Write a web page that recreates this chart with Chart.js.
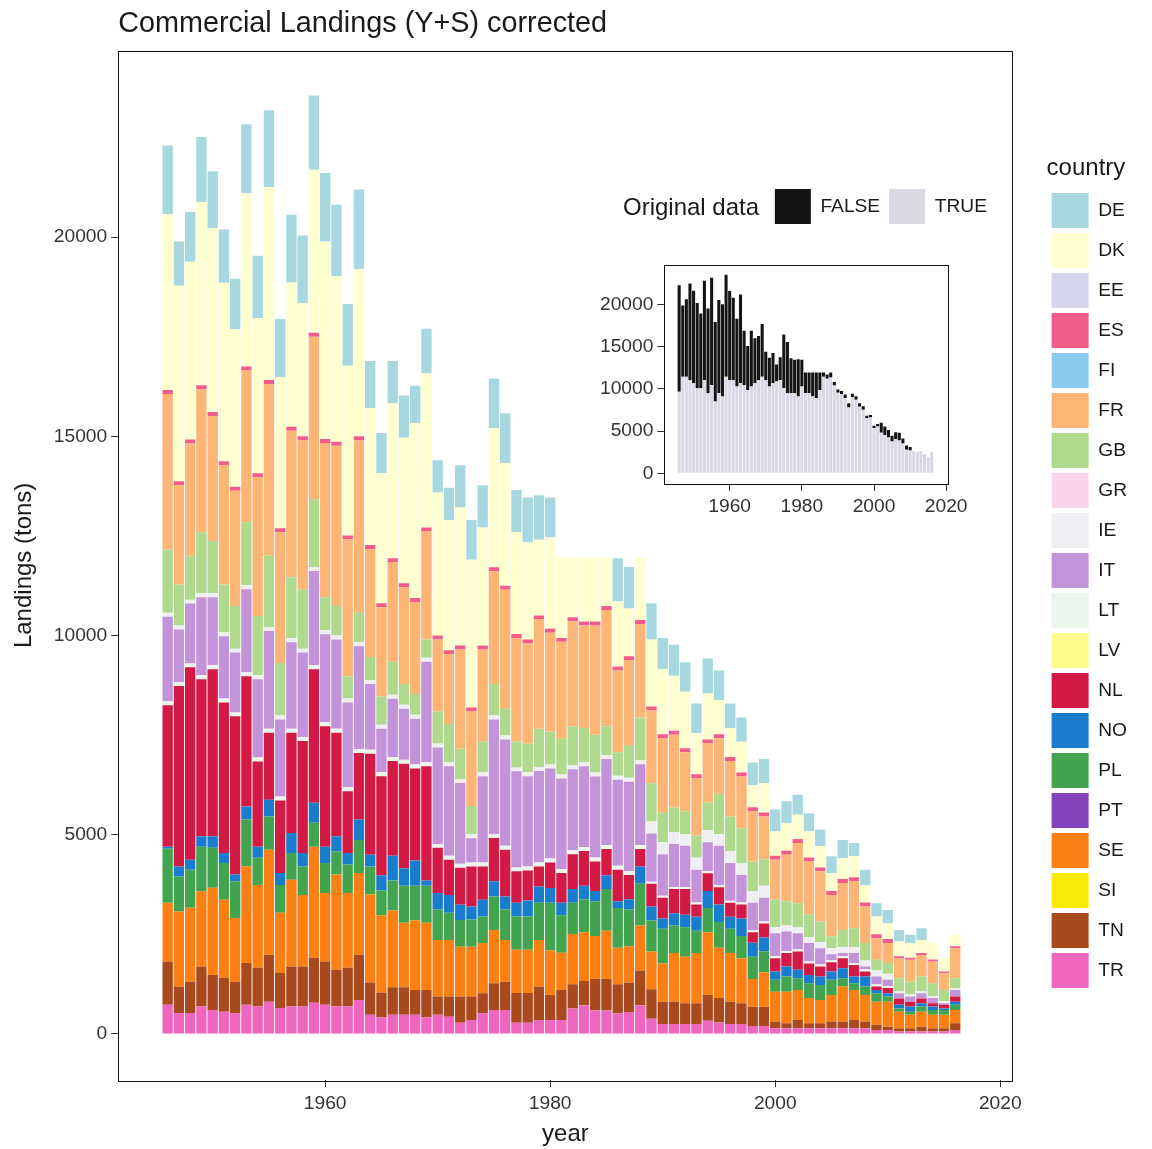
<!DOCTYPE html>
<html>
<head>
<meta charset="utf-8">
<title>Commercial Landings (Y+S) corrected</title>
<script src="https://cdn.jsdelivr.net/npm/chart.js@4.4.1/dist/chart.umd.min.js"></script>
<style>
  html, body { margin: 0; padding: 0; background: #fff; overflow: hidden; }
  #wrap { position: relative; width: 1152px; height: 1149px; }
  #main { position: absolute; left: 0; top: 0; }
  #inset { position: absolute; left: 585px; top: 180px; }
  #insetTitle {
    position: absolute; left: 623px; top: 193px; line-height: 28px;
    font: 24px "Liberation Sans", Arial, Helvetica, sans-serif; color: #1a1a1a;
  }
</style>
</head>
<body>
<div id="wrap">
  <canvas id="main" width="1152" height="1149"></canvas>
  <canvas id="inset" width="415" height="344"></canvas>
  <div id="insetTitle">Original data</div>
</div>
<script>
// --- data (tons per year, 1946-2016) ---
const years = [
  1946, 1947, 1948, 1949, 1950, 1951, 1952, 1953, 1954, 1955,
  1956, 1957, 1958, 1959, 1960, 1961, 1962, 1963, 1964, 1965,
  1966, 1967, 1968, 1969, 1970, 1971, 1972, 1973, 1974, 1975,
  1976, 1977, 1978, 1979, 1980, 1981, 1982, 1983, 1984, 1985,
  1986, 1987, 1988, 1989, 1990, 1991, 1992, 1993, 1994, 1995,
  1996, 1997, 1998, 1999, 2000, 2001, 2002, 2003, 2004, 2005,
  2006, 2007, 2008, 2009, 2010, 2011, 2012, 2013, 2014, 2015,
  2016
];

const TR = [
  730, 525, 525, 690, 600, 560, 525, 730, 690, 810,
  650, 690, 690, 780, 730, 690, 690, 850, 480, 420,
  480, 480, 480, 420, 480, 430, 280, 350, 520, 600,
  600, 280, 280, 350, 350, 350, 640, 720, 590, 590,
  510, 550, 720, 380, 250, 250, 250, 250, 330, 290,
  250, 250, 200, 200, 140, 140, 140, 140, 140, 140,
  140, 140, 140, 100, 100, 60, 60, 60, 60, 60,
  100
];
const TN = [
  1090, 665, 785, 1000, 880, 850, 785, 1050, 970, 1180,
  880, 1000, 1000, 1130, 1090, 920, 970, 1140, 810, 620,
  690, 690, 620, 680, 460, 510, 660, 590, 500, 670,
  710, 750, 750, 840, 630, 750, 610, 610, 790, 790,
  740, 740, 870, 740, 560, 560, 520, 520, 650, 610,
  560, 520, 480, 480, 170, 130, 210, 130, 130, 170,
  170, 210, 170, 130, 80, 80, 80, 120, 80, 80,
  170
];
const SE = [
  1470, 1880, 1860, 1890, 2190, 1960, 1600, 2420, 2080, 2630,
  1510, 2180, 1800, 2790, 1720, 2390, 1880, 2050, 2210, 1940,
  1930, 1620, 1750, 1690, 1420, 1420, 1250, 1250, 1260, 1340,
  1050, 1080, 1080, 1170, 1120, 940, 1260, 1220, 1080, 1210,
  910, 910, 1130, 950, 960, 1220, 1170, 1260, 1570, 1260,
  1220, 1130, 700, 870, 750, 790, 750, 630, 580, 670,
  880, 750, 670, 580, 630, 420, 340, 380, 340, 340,
  330
];
const PL = [
  1360, 880, 950, 1120, 1000, 920, 920, 1180, 680, 840,
  700, 670, 710, 600, 750, 580, 710, 830, 700, 620,
  750, 930, 870, 930, 760, 680, 670, 680, 670, 840,
  760, 840, 840, 930, 1190, 940, 780, 830, 870, 1050,
  1000, 920, 1050, 780, 870, 690, 740, 560, 610, 650,
  610, 560, 560, 520, 300, 380, 300, 370, 380, 380,
  210, 170, 210, 210, 130, 80, 80, 130, 120, 120,
  130
];
const NO = [
  50, 250, 250, 260, 290, 250, 170, 330, 280, 420,
  300, 500, 340, 500, 410, 380, 290, 510, 300, 380,
  620, 440, 630, 130, 420, 450, 380, 330, 420, 380,
  330, 340, 400, 410, 370, 310, 350, 340, 260, 340,
  170, 260, 430, 350, 260, 310, 310, 350, 430, 440,
  300, 440, 350, 350, 210, 250, 210, 210, 210, 210,
  250, 170, 250, 80, 80, 90, 130, 80, 90, 40,
  80
];
const NL = [
  3550, 4530, 4830, 3940, 4190, 3780, 3970, 3270, 2140, 1680,
  1820, 2520, 2810, 3350, 3020, 2600, 1550, 1670, 2530, 2490,
  2380, 2620, 2310, 2870, 1130, 880, 930, 1000, 830, 1090,
  1170, 790, 750, 500, 640, 750, 870, 870, 740, 660,
  790, 610, 440, 570, 520, 610, 650, 310, 440, 430,
  350, 350, 260, 350, 330, 340, 460, 290, 250, 230,
  250, 290, 130, 90, 130, 160, 120, 120, 80, 90,
  130
];
const LT = [
  100, 100, 100, 100, 100, 100, 100, 100, 100, 100,
  100, 100, 100, 100, 100, 100, 100, 100, 100, 100,
  100, 100, 100, 100, 100, 100, 100, 100, 100, 100,
  100, 100, 100, 100, 100, 100, 100, 100, 100, 100,
  100, 100, 100, 50, 50, 50, 50, 50, 50, 50,
  50, 50, 50, 50, 50, 50, 50, 50, 50, 50,
  50, 50, 50, 50, 50, 0, 0, 0, 0, 0,
  0
];
const IT = [
  2120, 1320, 1500, 1960, 1710, 1560, 1500, 2080, 1960, 2450,
  1930, 2170, 2120, 2370, 2210, 2240, 2130, 2580, 1650, 1090,
  1460, 1280, 1150, 2520, 2420, 2250, 2030, 610, 2170, 2870,
  2670, 2410, 2270, 2300, 2260, 2270, 2030, 2030, 2030, 2160,
  2160, 2240, 2030, 1210, 1040, 1080, 1030, 820, 730, 990,
  950, 690, 690, 600, 580, 490, 410, 460, 410, 150,
  80, 250, 70, 200, 160, 130, 130, 130, 130, 40,
  160
];
const IE = [
  100, 100, 100, 100, 100, 100, 100, 100, 100, 100,
  100, 100, 100, 100, 100, 100, 100, 100, 100, 100,
  100, 100, 100, 100, 100, 100, 100, 100, 100, 100,
  100, 100, 100, 100, 100, 100, 100, 100, 100, 100,
  100, 100, 100, 300, 300, 300, 300, 300, 300, 300,
  300, 300, 300, 300, 150, 150, 150, 150, 150, 150,
  150, 150, 150, 150, 150, 50, 50, 50, 50, 50,
  50
];
const GB = [
  1590, 1030, 1100, 1530, 1310, 1200, 1070, 1580, 1490, 1790,
  1320, 1530, 1490, 1700, 830, 740, 560, 740, 580, 710,
  830, 520, 520, 460, 800, 960, 760, 710, 770, 790,
  670, 650, 710, 960, 830, 900, 980, 860, 950, 720,
  590, 820, 1070, 960, 740, 610, 570, 560, 700, 1010,
  870, 870, 740, 660, 690, 610, 600, 560, 520, 300,
  430, 470, 440, 270, 270, 330, 320, 370, 320, 280,
  250
];
const FR = [
  3900, 2490, 2820, 3590, 3140, 2990, 2890, 3810, 3480, 4310,
  3280, 3680, 3740, 4080, 3870, 4020, 3430, 4330, 2710, 2240,
  2500, 2430, 2310, 2710, 1810, 1750, 2490, 2370, 2310, 2830,
  2990, 2600, 2520, 2740, 2480, 2430, 2640, 2570, 2740, 2920,
  2050, 2130, 2350, 1830, 1870, 1830, 1480, 1440, 1480, 1390,
  1390, 1300, 1260, 1080, 1000, 1170, 1510, 1340, 1260, 1040,
  1180, 1180, 920, 540, 500, 500, 550, 540, 550, 420,
  750
];
const ES = [
  100, 100, 100, 100, 100, 100, 100, 100, 100, 100,
  100, 100, 100, 100, 100, 100, 100, 100, 100, 100,
  100, 100, 100, 100, 100, 100, 100, 100, 100, 100,
  100, 100, 100, 100, 100, 100, 100, 100, 100, 100,
  100, 100, 100, 100, 100, 100, 100, 100, 100, 100,
  100, 100, 100, 100, 100, 100, 100, 100, 100, 100,
  100, 100, 100, 100, 100, 50, 50, 50, 50, 50,
  50
];
const DK = [
  4420, 4910, 4460, 4600, 4610, 4480, 3960, 4350, 3890, 4840,
  3790, 3620, 3340, 4090, 4960, 4160, 4260, 4200, 3440, 3270,
  3890, 3650, 4390, 3870, 3590, 3270, 3460, 3710, 2960, 3500,
  3080, 2550, 2440, 1900, 2290, 2020, 1500, 1610, 1610, 1220,
  1630, 1200, 1570, 1680, 1640, 1380, 1420, 1030, 1160, 860,
  730, 770, 560, 730, 610, 690, 610, 650, 530, 450,
  520, 530, 440, 450, 400, 370, 370, 330, 410, 330,
  290
];
const DE = [
  1720, 1110, 1250, 1630, 1430, 1340, 1260, 1730, 1570, 1930,
  1460, 1700, 1700, 1860, 1720, 1790, 1550, 1990, 1180, 1000,
  1060, 1060, 940, 1120, 810, 810, 1060, 1000, 1060, 1240,
  1250, 1060, 1120, 1120, 1000, 0, 0, 0, 0, 0,
  1090, 1040, 0, 910, 780, 780, 740, 740, 870, 740,
  610, 610, 560, 610, 550, 550, 500, 460, 420, 420,
  460, 330, 380, 330, 330, 290, 210, 290, 0, 0,
  0
];
// countries listed in the legend but with nothing visible in the bars
const EE = [], FI = [], GR = [], LV = [], PT = [], SI = [];

// inset: share of each year's total that is original data
const origTrue = [
  9680, 11460, 11460, 11070, 10670, 10080, 10080, 11070, 9490, 10470,
  8500, 9490, 9090, 11460, 11070, 11070, 10280, 10670, 10470, 9880,
  10280, 10670, 11070, 11460, 11070, 10280, 10670, 10870, 11070, 10080,
  9490, 9490, 9490, 9090, 10280, 9490, 9490, 9090, 8900, 9880,
  11440, 11220, 11360, 10410, 9540, 9370, 8930, 7790, 9020, 8720,
  7890, 7540, 6510, 6600, 5330, 5540, 4800, 4540, 4230, 3760,
  4070, 3890, 3520, 2780, 2710, 2610, 2490, 2650, 2280, 1900,
  2490
];
const origFalse = [
  12620, 8430, 9170, 11440, 10980, 10110, 8870, 11760, 10040, 12710,
  9440, 11070, 10950, 12090, 10540, 9740, 8040, 10520, 6420, 5200,
  6610, 5350, 5200, 6240, 3330, 3430, 3600, 2030, 2700, 6370,
  6090, 4160, 3970, 4430, 3180, 2470, 2470, 2870, 3060, 2080,
  500, 500, 600, 400, 400, 400, 400, 500, 400, 400,
  400, 400, 300, 300, 300, 300, 1200, 1000, 900, 700,
  800, 900, 600, 500, 400, 0, 0, 0, 0, 0,
  0
];

const xTicks = [1960, 1980, 2000, 2020];
const yTicks = [0, 5000, 10000, 15000, 20000];

const countries = ['DE', 'DK', 'EE', 'ES', 'FI', 'FR', 'GB', 'GR', 'IE', 'IT',
                   'LT', 'LV', 'NL', 'NO', 'PL', 'PT', 'SE', 'SI', 'TN', 'TR'];
const countryValues = { DE, DK, EE, ES, FI, FR, GB, GR, IE, IT, LT, LV, NL, NO, PL, PT, SE, SI, TN, TR };
const countryColors = {
  DE: '#a7d8df', DK: '#ffffcf', EE: '#d5d5ee', ES: '#f25c88', FI: '#8ccbee',
  FR: '#fcb574', GB: '#afd98c', GR: '#f9d4ec', IE: '#efeff3', IT: '#c393da',
  LT: '#edf6ec', LV: '#fdfc8a', NL: '#d31a44', NO: '#1a7ccc', PL: '#42a44e',
  PT: '#8442bb', SE: '#fb7f12', SI: '#f9ea0a', TN: '#a84a1d', TR: '#ef66bf'
};

// --- helpers ---
const FONT = '"Liberation Sans", Arial, Helvetica, sans-serif';
const INK = '#1a1a1a';
Chart.defaults.font.family = FONT;
Chart.defaults.color = INK;

const toPoints = vals => vals.map((v, i) => ({ x: years[i], y: v }));
const setTicks = list => axis => { axis.ticks = list.map(v => ({ value: v })); };

// black frame around the plotting panel, like ggplot's theme_bw border
const panelFrame = {
  id: 'panelFrame',
  afterDraw(chart) {
    const { ctx, chartArea: a } = chart;
    ctx.save();
    ctx.strokeStyle = '#111';
    ctx.lineWidth = 1;
    ctx.strokeRect(Math.round(a.left) + 0.5, Math.round(a.top) + 0.5,
                   Math.round(a.right - a.left), Math.round(a.bottom - a.top));
    ctx.restore();
  }
};

function tickAxis(min, max, list, extra) {
  return Object.assign({
    type: 'linear',
    stacked: true,
    offset: false,
    min: min,
    max: max,
    afterBuildTicks: setTicks(list),
    ticks: { callback: v => String(v), color: '#333', font: { size: 19.2 }, maxRotation: 0, padding: 4 },
    grid: { display: true, offset: false, drawOnChartArea: false, drawTicks: true, tickLength: 7, tickColor: '#333' },
    border: { display: false }
  }, extra);
}

// invisible axis used only to leave room between the panel and a legend
function spacer(position, size) {
  return {
    type: 'linear',
    position: position,
    display: true,
    ticks: { display: false },
    grid: { display: false },
    border: { display: false },
    afterFit: s => {
      if (position === 'top' || position === 'bottom') s.height = size; else s.width = size;
    }
  };
}

// --- main stacked bars ---
new Chart(document.getElementById('main'), {
  type: 'bar',
  data: {
    // stacked bottom-up from TR to DE, legend shown DE..TR
    datasets: countries.slice().reverse().map(code => ({
      label: code,
      data: toPoints(countryValues[code]),
      backgroundColor: countryColors[code],
      borderWidth: 0
    }))
  },
  options: {
    responsive: false,
    animation: false,
    layout: { padding: { left: 10, right: 15, top: 0, bottom: 0 } },
    datasets: { bar: { barPercentage: 0.92, categoryPercentage: 1.0 } },
    plugins: {
      title: {
        display: true,
        text: 'Commercial Landings (Y+S) corrected',
        align: 'start',
        fullSize: false,
        color: INK,
        font: { size: 28.8, weight: 'normal' },
        padding: { top: 7, bottom: 9 }
      },
      legend: {
        position: 'right',
        reverse: true,
        title: { display: true, text: 'country', position: 'start', color: INK, font: { size: 24 }, padding: { top: 0, bottom: 3 } },
        labels: { boxWidth: 37, boxHeight: 35, padding: 5, color: INK, font: { size: 19.2 } }
      },
      tooltip: { enabled: false }
    },
    scales: {
      x: tickAxis(1941.6, 2021.1, xTicks, {
        ticks: { callback: v => String(v), color: '#333', font: { size: 19.2 }, maxRotation: 0, padding: 5 },
        title: { display: true, text: 'year', color: INK, font: { size: 24 }, padding: { top: 0, bottom: 0 } }
      }),
      y: tickAxis(-1160, 24680, yTicks, {
        title: { display: true, text: 'Landings (tons)', color: INK, font: { size: 24 }, padding: { top: 0, bottom: 11 } }
      }),
      gapRight: spacer('right', 34)
    }
  },
  plugins: [panelFrame]
});

// --- inset: original vs corrected ---
new Chart(document.getElementById('inset'), {
  type: 'bar',
  data: {
    datasets: [
      { label: 'TRUE', data: toPoints(origTrue), backgroundColor: '#d9d8e5', borderWidth: 0 },
      { label: 'FALSE', data: toPoints(origFalse), backgroundColor: '#141414', borderWidth: 0 }
    ]
  },
  options: {
    responsive: false,
    animation: false,
    layout: { padding: { left: 11, right: 4, top: 0, bottom: 2 } },
    datasets: { bar: { barPercentage: 0.85, categoryPercentage: 1.0 } },
    plugins: {
      legend: {
        position: 'top',
        align: 'end',
        reverse: true,
        labels: { boxWidth: 36, boxHeight: 35, padding: 9, color: INK, font: { size: 19.2 } }
      },
      tooltip: { enabled: false }
    },
    scales: {
      x: tickAxis(1941.9, 2020.5, xTicks, {}),
      y: tickAxis(-1270, 24700, yTicks, {}),
      gapTop: spacer('top', 31),
      gapRight: spacer('right', 48)
    }
  },
  plugins: [panelFrame]
});
</script>
</body>
</html>
